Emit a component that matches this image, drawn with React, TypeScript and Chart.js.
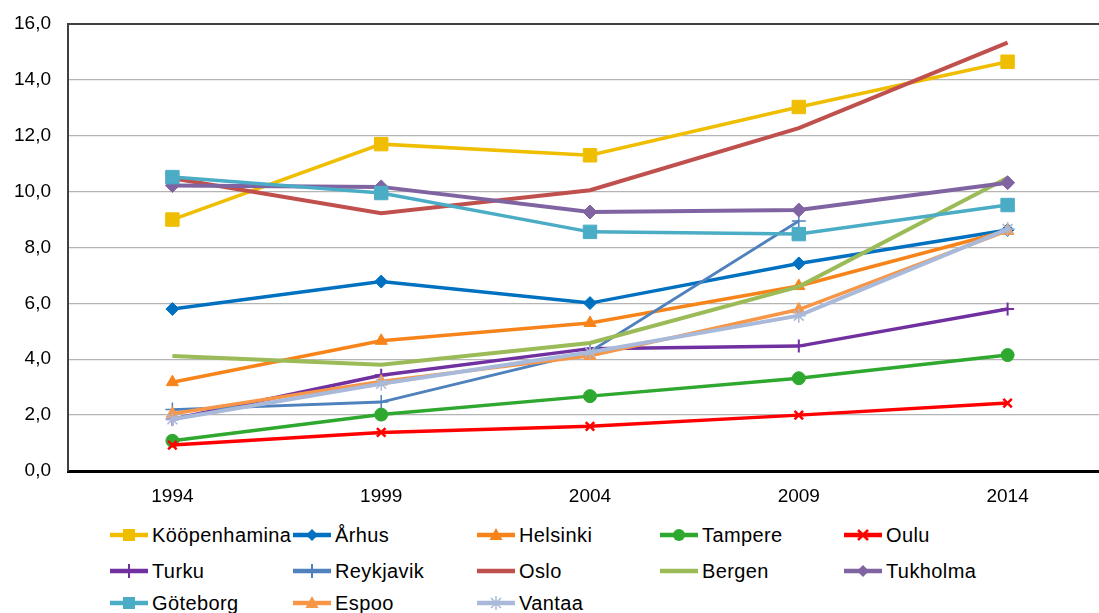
import React, { useEffect, useRef } from "react";
import { Chart, registerables } from "chart.js";

Chart.register(...registerables);

const years = ["1994", "1999", "2004", "2009", "2014"];
const yTicks = [0, 2, 4, 6, 8, 10, 12, 14, 16];

const kööpenhamina = [9.0, 11.7, 11.3, 13.03, 14.65];
const århus = [5.8, 6.78, 6.01, 7.43, 8.63];
const helsinki = [3.18, 4.66, 5.3, 6.62, 8.6];
const tampere = [1.08, 2.02, 2.68, 3.32, 4.15];
const oulu = [0.93, 1.38, 1.6, 2.0, 2.43];
const turku = [1.85, 3.43, 4.38, 4.47, 5.8];
const reykjavik = [2.2, 2.47, 4.27, 8.95, null];
const oslo = [10.48, 9.23, 10.05, 12.27, 15.33];
const bergen = [4.12, 3.8, 4.58, 6.6, 10.5];
const tukholma = [10.22, 10.17, 9.27, 9.34, 10.32];
const göteborg = [10.52, 9.95, 8.56, 8.48, 9.52];
const espoo = [2.05, 3.2, 4.12, 5.78, 8.6];
const vantaa = [1.85, 3.12, 4.25, 5.56, 8.66];

type S = {
  label: string;
  data: (number | null)[];
  color: string;
  style: string | false;
  radius: number;
  width: number;
  pbw: number;
};

const series: S[] = [
  { label: "Kööpenhamina", data: kööpenhamina, color: "#F0BE00", style: "rect", radius: 9.5, width: 3.5, pbw: 1 },
  { label: "Århus", data: århus, color: "#0070C0", style: "rectRot", radius: 6.5, width: 3.5, pbw: 1 },
  { label: "Helsinki", data: helsinki, color: "#F7841A", style: "triangle", radius: 7, width: 3.5, pbw: 1 },
  { label: "Tampere", data: tampere, color: "#2EA82E", style: "circle", radius: 6.5, width: 3.5, pbw: 1 },
  { label: "Oulu", data: oulu, color: "#FF0000", style: "crossRot", radius: 6, width: 3.5, pbw: 2.5 },
  { label: "Turku", data: turku, color: "#7030A0", style: "cross", radius: 6.5, width: 3.5, pbw: 2 },
  { label: "Reykjavik", data: reykjavik, color: "#4F81BD", style: "cross", radius: 7, width: 2.8, pbw: 1.5 },
  { label: "Oslo", data: oslo, color: "#C0504D", style: false, radius: 0, width: 4, pbw: 1 },
  { label: "Bergen", data: bergen, color: "#9BBB59", style: false, radius: 0, width: 4, pbw: 1 },
  { label: "Tukholma", data: tukholma, color: "#8064A2", style: "rectRot", radius: 7, width: 4, pbw: 1 },
  { label: "Göteborg", data: göteborg, color: "#4BACC6", style: "rect", radius: 9.5, width: 3.5, pbw: 1 },
  { label: "Espoo", data: espoo, color: "#F79646", style: "triangle", radius: 7, width: 3.5, pbw: 1 },
  { label: "Vantaa", data: vantaa, color: "#A9B9D9", style: "star", radius: 7, width: 4, pbw: 1.5 },
];

const FONT = "'Liberation Sans', Arial, sans-serif";

function LegendMarker({ s }: { s: S }) {
  const cx = 19, cy = 8;
  let shape: React.ReactNode = null;
  const c = s.color;
  if (s.style === "rect") shape = <rect x={cx - 6} y={cy - 6} width={12} height={12} fill={c} />;
  else if (s.style === "rectRot") shape = <polygon points={`${cx},${cy - 6} ${cx + 6},${cy} ${cx},${cy + 6} ${cx - 6},${cy}`} fill={c} />;
  else if (s.style === "triangle") shape = <polygon points={`${cx},${cy - 7} ${cx + 6.5},${cy + 5} ${cx - 6.5},${cy + 5}`} fill={c} />;
  else if (s.style === "circle") shape = <circle cx={cx} cy={cy} r={6} fill={c} />;
  else if (s.style === "crossRot") shape = <path d={`M${cx - 5} ${cy - 5}L${cx + 5} ${cy + 5}M${cx + 5} ${cy - 5}L${cx - 5} ${cy + 5}`} stroke={c} strokeWidth={2.5} />;
  else if (s.style === "cross") shape = <path d={`M${cx} ${cy - 7}L${cx} ${cy + 7}`} stroke={c} strokeWidth={2} />;
  else if (s.style === "star") shape = <path d={`M${cx - 5} ${cy - 5}L${cx + 5} ${cy + 5}M${cx + 5} ${cy - 5}L${cx - 5} ${cy + 5}M${cx} ${cy - 7}L${cx} ${cy + 7}`} stroke={c} strokeWidth={1.5} />;
  return (
    <svg width={38} height={16} style={{ display: "block" }}>
      <line x1={0} y1={cy} x2={38} y2={cy} stroke={c} strokeWidth={4.5} />
      {shape}
    </svg>
  );
}

export default function App() {
  const ref = useRef<HTMLCanvasElement>(null);

  useEffect(() => {
    if (!ref.current) return;
    const N = series.length;
    const chart = new Chart(ref.current, {
      type: "line",
      data: {
        labels: years,
        datasets: series.map((s, i) => ({
          label: s.label,
          data: s.data,
          borderColor: s.color,
          backgroundColor: s.color,
          borderWidth: s.width,
          pointStyle: s.style as any,
          pointRadius: s.radius,
          pointBackgroundColor: s.color,
          pointBorderColor: s.color,
          pointBorderWidth: s.pbw,
          tension: 0,
          fill: false,
          order: N - i,
        })),
      },
      options: {
        animation: false,
        responsive: false,
        layout: { autoPadding: false, padding: { top: 24, left: 0, right: 0, bottom: 0 } },
        plugins: { legend: { display: false }, tooltip: { enabled: false } },
        scales: {
          x: {
            offset: true,
            grid: { display: false, drawTicks: false },
            border: { color: "#000000", width: 3 },
            ticks: { color: "#000", font: { family: FONT, size: 19 }, padding: 14 },
            afterFit: (scale: any) => {
              scale.height = 41;
              scale.paddingLeft = 0;
              scale.paddingRight = 0;
            },
          },
          y: {
            min: 0,
            max: 16,
            afterBuildTicks: (scale: any) => { scale.ticks = yTicks.map((v) => ({ value: v })); },
            grid: {
              drawTicks: false,
              color: (ctx: any) => (ctx.tick && ctx.tick.value === 16 ? "#404040" : "#B4B4B4"),
              lineWidth: (ctx: any) => (ctx.tick && ctx.tick.value === 16 ? 2 : 1.3),
            },
            border: { color: "#404040", width: 2 },
            ticks: {
              color: "#000",
              font: { family: FONT, size: 19 },
              padding: 17,
              callback: (v: any) => Number(v).toFixed(1).replace(".", ","),
            },
            afterFit: (scale: any) => {
              scale.width = 68;
              scale.paddingTop = 0;
              scale.paddingBottom = 0;
            },
          },
        },
      },
    });
    return () => chart.destroy();
  }, []);

  const colX = [110, 293, 477, 660, 844];
  const rowY = [535, 571, 603];

  return (
    <div style={{ position: "fixed", left: 0, top: 0, width: 1099, height: 613, overflow: "hidden", background: "#fff" }}>
      <canvas ref={ref} width={1112} height={512} style={{ position: "absolute", left: 0, top: 0, width: "1112px", height: "512px", maxWidth: "none" }} />
      {series.map((s, i) => {
        const r = Math.floor(i / 5);
        const c = i % 5;
        return (
          <div
            key={s.label}
            style={{
              position: "absolute",
              left: colX[c],
              top: rowY[r] - 11,
              height: 22,
              display: "flex",
              alignItems: "center",
              fontFamily: FONT,
              fontSize: 20,
              color: "#000",
              whiteSpace: "nowrap",
              lineHeight: "22px",
            }}
          >
            <LegendMarker s={s} />
            <span style={{ marginLeft: 4, letterSpacing: 0.4 }}>{s.label}</span>
          </div>
        );
      })}
    </div>
  );
}
